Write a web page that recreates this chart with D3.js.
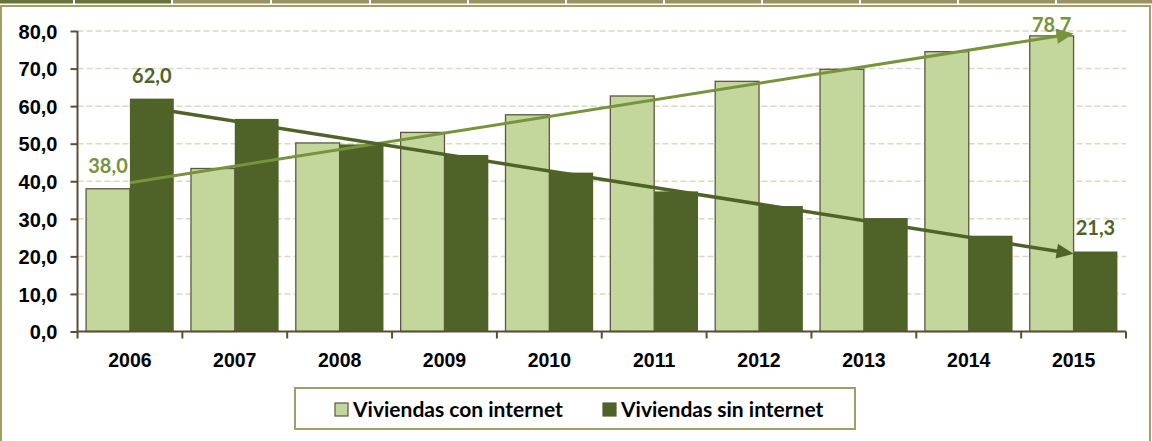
<!DOCTYPE html>
<html><head><meta charset="utf-8">
<script src="https://cdn.jsdelivr.net/npm/d3@7"></script>
<style>
html,body{margin:0;padding:0;background:#fff;}
svg{display:block;font-family:Lato,'Open Sans',sans-serif;font-weight:700;}
</style></head>
<body><svg id="c" width="1152" height="441"></svg>
<script>
const years = ['2006','2007','2008','2009','2010','2011','2012','2013','2014','2015'];
const conInternet = [38.0, 43.4, 50.2, 53.0, 57.7, 62.7, 66.6, 69.8, 74.5, 78.7];
const sinInternet = [62.0, 56.6, 49.8, 47.0, 42.3, 37.3, 33.4, 30.2, 25.5, 21.3];
const seriesNames = ['Viviendas con internet', 'Viviendas sin internet'];
const yTicks = [0, 10, 20, 30, 40, 50, 60, 70, 80];
const labelledIdx = [0, 9];

const colLight = '#C3D69B', colDark = '#4F6228';
const arrowLight = '#77933C', arrowDark = '#4F6228';
const axisCol = '#5A4E36', frameCol = '#A39D6B', gridCol = '#DDD8BF';

const svg = d3.select('#c');
const fmt = v => v.toFixed(1).replace('.', ',');

// top tab strip (decoration)
const tabEdges = [0,73,171,270,369,467,565,663,761,859,957,1055,1152];
for (let i = 0; i < tabEdges.length - 1; i++) {
  svg.append('rect').attr('x', tabEdges[i] + (i ? 2 : 0)).attr('y', 0)
    .attr('width', tabEdges[i+1] - tabEdges[i] - (i ? 2 : 0)).attr('height', 3.5)
    .attr('fill', i < 2 ? '#66733A' : '#9A9260');
}
// chart frame
svg.append('rect').attr('x', 1).attr('y', 6).attr('width', 1149).attr('height', 440)
  .attr('fill', '#fff').attr('stroke', frameCol).attr('stroke-width', 2);

const L = 77.5, R = 1126, T = 31, B = 331.5;
const x = d3.scaleBand().domain(years).range([L, R]).padding(0);
const y = d3.scaleLinear().domain([0, 80]).range([B, T]);
const bw = x.bandwidth() * 0.418;

// grid
svg.append('g').selectAll('line').data(yTicks.filter(t => t > 0)).join('line')
  .attr('x1', L).attr('x2', R).attr('y1', d => y(d)).attr('y2', d => y(d))
  .attr('stroke', gridCol).attr('stroke-width', 1.5).attr('stroke-dasharray', '6,3');

// bars
const cx = d => x(d) + x.bandwidth() / 2;
svg.append('g').selectAll('rect').data(years).join('rect')
  .attr('x', d => cx(d) - bw).attr('width', bw)
  .attr('y', (d, i) => y(conInternet[i])).attr('height', (d, i) => B - y(conInternet[i]))
  .attr('fill', colLight).attr('stroke', '#5F5641').attr('stroke-width', 1.3);
svg.append('g').selectAll('rect').data(years).join('rect')
  .attr('x', d => cx(d)).attr('width', bw)
  .attr('y', (d, i) => y(sinInternet[i])).attr('height', (d, i) => B - y(sinInternet[i]))
  .attr('fill', colDark);

// axes
const yAxis = svg.append('g').attr('transform', `translate(${L},0)`)
  .call(d3.axisLeft(y).tickValues(yTicks).tickSize(7).tickPadding(13).tickFormat(fmt));
const xAxis = svg.append('g').attr('transform', `translate(0,${B})`)
  .call(d3.axisBottom(x).tickSize(0).tickPadding(22));
// x tick marks at category boundaries
xAxis.selectAll('.bound').data(years.concat(['end'])).join('line').attr('class', 'bound')
  .attr('x1', (d, i) => i < years.length ? x(d) : R).attr('x2', (d, i) => i < years.length ? x(d) : R)
  .attr('y1', 0).attr('y2', 7);
[yAxis, xAxis].forEach(g => {
  g.select('.domain').attr('stroke', axisCol).attr('stroke-width', 2).attr('d',
    g === yAxis ? `M0,${T}V${B}` : `M${L},0H${R}`);
  g.selectAll('line').attr('stroke', axisCol).attr('stroke-width', 2);
  g.selectAll('text').attr('fill', '#000').attr('font-size', 20).attr('font-family', null);
});
yAxis.selectAll('text').attr('dy', '0.36em');
xAxis.selectAll('text').attr('font-size', 19.5);

// trend arrows (least squares fit on each series)
function fit(vals) {
  const n = vals.length, xs = d3.range(n);
  const mx = d3.mean(xs), my = d3.mean(vals);
  const s = d3.sum(xs, (v, i) => (v - mx) * (vals[i] - my)) / d3.sum(xs, v => (v - mx) ** 2);
  return [my - s * mx, my + s * (n - 1 - mx)];
}
function arrow(vals, col, w) {
  const [a, b] = fit(vals);
  const x0 = cx(years[0]), y0 = y(a), x1 = cx(years[years.length - 1]), y1 = y(b);
  const dx = x1 - x0, dy = y1 - y0, len = Math.hypot(dx, dy), ux = dx / len, uy = dy / len;
  const hl = 17, hw = 7.5;
  svg.append('line').attr('x1', x0).attr('y1', y0)
    .attr('x2', x1 - ux * (hl - 2)).attr('y2', y1 - uy * (hl - 2))
    .attr('stroke', col).attr('stroke-width', w);
  const bx = x1 - ux * hl, by = y1 - uy * hl;
  svg.append('path').attr('fill', col)
    .attr('d', `M${x1},${y1}L${bx - uy * hw},${by + ux * hw}L${bx + uy * hw},${by - ux * hw}Z`);
}
arrow(conInternet, arrowLight, 3);
arrow(sinInternet, arrowDark, 3.5);

// data labels
labelledIdx.forEach(i => {
  svg.append('text').attr('x', cx(years[i]) - bw / 2).attr('y', Math.max(y(conInternet[i]) - 16, T + 1))
    .attr('text-anchor', 'middle').attr('font-size', 20).attr('fill', arrowLight).text(fmt(conInternet[i]));
  svg.append('text').attr('x', cx(years[i]) + bw / 2).attr('y', Math.max(y(sinInternet[i]) - 16, T + 1))
    .attr('text-anchor', 'middle').attr('font-size', 20).attr('fill', arrowDark).text(fmt(sinInternet[i]));
});

// legend
const lg = svg.append('g');
lg.append('rect').attr('x', 295).attr('y', 388).attr('width', 560).attr('height', 41)
  .attr('fill', '#fff').attr('stroke', frameCol).attr('stroke-width', 2);
const legendX = [335, 603];
seriesNames.forEach((name, i) => {
  lg.append('rect').attr('x', legendX[i]).attr('y', 403).attr('width', 13).attr('height', 13)
    .attr('fill', i ? colDark : colLight).attr('stroke', i ? colDark : '#5F5641').attr('stroke-width', 1.2);
  lg.append('text').attr('x', legendX[i] + 18).attr('y', 417).attr('font-size', 21)
    .attr('fill', '#000').text(name);
});
</script></body></html>
